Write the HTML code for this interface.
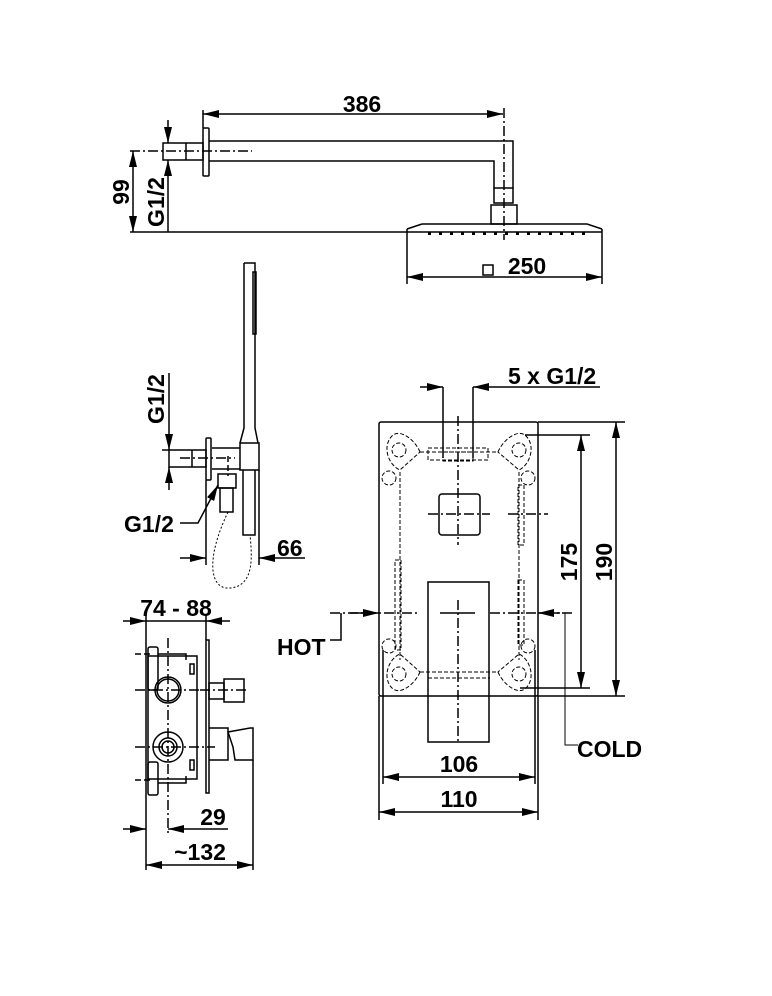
<!DOCTYPE html>
<html><head><meta charset="utf-8"><style>
html,body{margin:0;padding:0;background:#fff}
svg{display:block}
text{font-family:"Liberation Sans",Arial,sans-serif;font-weight:bold;font-size:23px;fill:#000}
</style></head><body>
<svg width="772" height="996" viewBox="0 0 772 996" xmlns="http://www.w3.org/2000/svg">
<defs>
<marker id="a" viewBox="0 0 16 8" refX="16" refY="4" markerWidth="16" markerHeight="8" markerUnits="userSpaceOnUse" orient="auto-start-reverse"><path d="M0,0 L16,4 L0,8z" fill="#000"/></marker>
</defs>
<g fill="none" stroke="#000" stroke-width="1.5">
<line x1="203" y1="114" x2="503" y2="114" marker-start="url(#a)" marker-end="url(#a)"/>
<line x1="203" y1="110" x2="203" y2="128"/>
<line x1="504" y1="108" x2="504" y2="240" stroke-dasharray="10,3,2,3"/>
<rect x="203" y="128" width="6" height="48" rx="1"/>
<rect x="163" y="143" width="40" height="17"/>
<line x1="186" y1="143" x2="186" y2="160"/>
<line x1="130" y1="151" x2="252" y2="151" stroke-dasharray="10,3,2,3"/>
<path d="M209,141 H513 V188 M209,161 H494 V188"/>
<rect x="494" y="188" width="19" height="15"/>
<rect x="491" y="205" width="26" height="19"/>
<path d="M422,224 H587 L602,229 M422,224 L407,229"/>
<line x1="130" y1="232" x2="602" y2="232"/>
<line x1="407" y1="229" x2="407" y2="284"/>
<line x1="602" y1="229" x2="602" y2="284"/>
<line x1="407" y1="277" x2="602" y2="277" marker-start="url(#a)" marker-end="url(#a)"/>
<line x1="133" y1="151" x2="133" y2="232" marker-start="url(#a)" marker-end="url(#a)"/>
<line x1="168" y1="120" x2="168" y2="143" marker-end="url(#a)"/>
<line x1="168" y1="232" x2="168" y2="160" marker-end="url(#a)"/>
<rect x="483" y="265" width="10" height="10" stroke-width="1.5"/>
<path d="M244,263 H255 V428 L258,443 M244,263 V428 L240,443"/>
<rect x="253" y="272" width="3" height="62"/>
<rect x="240" y="443" width="19" height="27"/>
<path d="M212,448 H240 M212,469 H240"/>
<rect x="206" y="438" width="5" height="42" rx="1"/>
<rect x="169" y="450" width="37" height="17"/>
<line x1="192" y1="450" x2="192" y2="467"/>
<line x1="180" y1="458" x2="235" y2="458" stroke-dasharray="10,3,2,3"/>
<line x1="228" y1="456" x2="228" y2="476" stroke-dasharray="6,3"/>
<rect x="218" y="474" width="18" height="14"/>
<rect x="220" y="488" width="13" height="24"/>
<path d="M243,470 V535 H255 V470"/>
<path d="M228,512 C205,560 210,590 230,588 C255,586 252,555 250,535" stroke-dasharray="2,2" stroke-width="1"/>
<line x1="169" y1="373" x2="169" y2="450" marker-end="url(#a)"/>
<line x1="169" y1="490" x2="169" y2="467" marker-end="url(#a)"/>
<line x1="162" y1="450" x2="169" y2="450"/>
<path d="M180,523 H198 L218,485" marker-end="url(#a)"/>
<line x1="206" y1="480" x2="206" y2="565"/>
<line x1="259" y1="470" x2="259" y2="565"/>
<line x1="180" y1="558" x2="206" y2="558" marker-end="url(#a)"/>
<line x1="305" y1="558" x2="259" y2="558" marker-end="url(#a)"/>
<line x1="123" y1="621" x2="146" y2="621" marker-end="url(#a)"/>
<line x1="230" y1="621" x2="206" y2="621" marker-end="url(#a)"/>
<line x1="146" y1="621" x2="206" y2="621"/>
<line x1="146" y1="614" x2="146" y2="870"/>
<line x1="206" y1="614" x2="206" y2="640"/>
<rect x="148" y="656" width="49" height="123"/>
<rect x="148" y="647" width="10" height="43" rx="2"/>
<rect x="148" y="762" width="10" height="33" rx="2"/>
<path d="M158,654 H186 V660 M158,783 H186 V776"/>
<rect x="190" y="664" width="4" height="10"/>
<rect x="190" y="760" width="4" height="10"/>
<rect x="206" y="640" width="3" height="153"/>
<circle cx="168" cy="690" r="13"/>
<circle cx="168" cy="690" r="11"/>
<circle cx="168" cy="747" r="15"/>
<circle cx="168" cy="747" r="9"/>
<circle cx="168" cy="747" r="6"/>
<line x1="168" y1="638" x2="168" y2="835" stroke-dasharray="10,3,2,3"/>
<line x1="135" y1="690" x2="200" y2="690" stroke-dasharray="10,3,2,3"/>
<line x1="135" y1="747" x2="215" y2="747" stroke-dasharray="10,3,2,3"/>
<line x1="135" y1="654" x2="150" y2="654" stroke-dasharray="6,3"/>
<line x1="135" y1="780" x2="150" y2="780" stroke-dasharray="6,3"/>
<rect x="209" y="683" width="15" height="16"/>
<rect x="224" y="679" width="20" height="23"/>
<line x1="200" y1="690" x2="248" y2="690" stroke-dasharray="10,3,2,3"/>
<path d="M209,728 H228 V760 H209"/>
<path d="M228,732 L250,728 H253 V760 H235 L233,747 Z"/>
<line x1="253" y1="760" x2="253" y2="870"/>
<line x1="123" y1="829" x2="146" y2="829" marker-end="url(#a)"/>
<line x1="228" y1="829" x2="168" y2="829" marker-end="url(#a)"/>
<line x1="146" y1="865" x2="253" y2="865" marker-start="url(#a)" marker-end="url(#a)"/>
<rect x="379" y="422" width="159" height="274" rx="2"/>
<rect x="439" y="494" width="41" height="41" rx="3"/>
<rect x="428" y="582" width="61" height="160"/>
<path d="M443,387 V458 M473,387 V458"/>
<line x1="420" y1="387" x2="443" y2="387" marker-end="url(#a)"/>
<line x1="600" y1="387" x2="473" y2="387" marker-end="url(#a)"/>
<line x1="538" y1="422" x2="625" y2="422"/>
<line x1="538" y1="696" x2="625" y2="696"/>
<line x1="616" y1="422" x2="616" y2="696" marker-start="url(#a)" marker-end="url(#a)"/>
<line x1="525" y1="435" x2="590" y2="435"/>
<line x1="520" y1="688" x2="590" y2="688"/>
<line x1="581" y1="435" x2="581" y2="688" marker-start="url(#a)" marker-end="url(#a)"/>
<line x1="383" y1="650" x2="383" y2="784"/>
<line x1="535" y1="650" x2="535" y2="784"/>
<line x1="379" y1="696" x2="379" y2="820"/>
<line x1="538" y1="696" x2="538" y2="820"/>
<line x1="383" y1="777" x2="535" y2="777" marker-start="url(#a)" marker-end="url(#a)"/>
<line x1="379" y1="812" x2="538" y2="812" marker-start="url(#a)" marker-end="url(#a)"/>
<line x1="458" y1="416" x2="458" y2="545" stroke-dasharray="10,3,2,3"/>
<line x1="458" y1="600" x2="458" y2="742" stroke-dasharray="10,3,2,3"/>
<line x1="428" y1="514" x2="490" y2="514" stroke-dasharray="10,3,2,3"/>
<line x1="508" y1="514" x2="548" y2="514" stroke-dasharray="10,3,2,3"/>
<line x1="330" y1="613" x2="420" y2="613" stroke-dasharray="10,3,2,3"/>
<line x1="440" y1="613" x2="475" y2="613"/>
<line x1="490" y1="613" x2="575" y2="613" stroke-dasharray="10,3,2,3"/>
<line x1="350" y1="613" x2="379" y2="613" marker-end="url(#a)"/>
<line x1="560" y1="613" x2="538" y2="613" marker-end="url(#a)"/>
<path d="M341,613 V640 H330"/>
<path d="M565,613 V745 H578" stroke-width="1"/>
<g stroke-dasharray="4,2" stroke-width="1">
<path d="M400,472 V580 M519,472 V580 M400,580 V660 M519,580 V660"/>
<path d="M395,560 H401 V650 H395 Z M518,485 H524 V545 H518 Z M518,580 H524 V645 H518 Z"/>
<path d="M420,452 H498 M420,672 H498 M428,678 H490"/>
<rect x="428" y="448" width="60" height="12"/>
<rect x="443" y="452" width="30" height="9"/>
<path d="M420,452 C415,440 400,428 392,436 C382,446 388,465 400,470 Z"/>
<path d="M498,452 C503,440 518,428 526,436 C536,446 530,465 519,470 Z"/>
<path d="M420,672 C415,684 400,696 392,688 C382,678 388,659 400,654 Z"/>
<path d="M498,672 C503,684 518,696 526,688 C536,678 530,659 519,654 Z"/>
<circle cx="399" cy="450" r="7"/><circle cx="519" cy="450" r="7"/>
<circle cx="399" cy="674" r="7"/><circle cx="519" cy="674" r="7"/>
<circle cx="389" cy="478" r="7"/><circle cx="528" cy="478" r="7"/>
<circle cx="389" cy="646" r="7"/><circle cx="528" cy="646" r="7"/>
</g>
</g>
<g fill="#000">
<rect x="428" y="232" width="3" height="3"/><rect x="439" y="232" width="3" height="3"/><rect x="450" y="232" width="3" height="3"/><rect x="461" y="232" width="3" height="3"/><rect x="472" y="232" width="3" height="3"/><rect x="483" y="232" width="3" height="3"/><rect x="494" y="232" width="3" height="3"/><rect x="505" y="232" width="3" height="3"/><rect x="516" y="232" width="3" height="3"/><rect x="527" y="232" width="3" height="3"/><rect x="538" y="232" width="3" height="3"/><rect x="549" y="232" width="3" height="3"/><rect x="560" y="232" width="3" height="3"/><rect x="571" y="232" width="3" height="3"/><rect x="582" y="232" width="3" height="3"/>
</g>
<text x="362" y="112" text-anchor="middle">386</text>
<text x="527" y="274" text-anchor="middle">250</text>
<text transform="translate(129,192) rotate(-90)" text-anchor="middle">99</text>
<text transform="translate(164,202) rotate(-90)" text-anchor="middle">G1/2</text>
<text transform="translate(164,399) rotate(-90)" text-anchor="middle">G1/2</text>
<text x="124" y="532">G1/2</text>
<text x="277" y="556">66</text>
<text x="176" y="616" text-anchor="middle">74 - 88</text>
<text x="213" y="825" text-anchor="middle">29</text>
<text x="200" y="860" text-anchor="middle">~132</text>
<text x="508" y="384">5 x G1/2</text>
<text transform="translate(577,562) rotate(-90)" text-anchor="middle">175</text>
<text transform="translate(612,562) rotate(-90)" text-anchor="middle">190</text>
<text x="277" y="655">HOT</text>
<text x="577" y="757">COLD</text>
<text x="459" y="772" text-anchor="middle">106</text>
<text x="459" y="807" text-anchor="middle">110</text>
</svg>
</body></html>
